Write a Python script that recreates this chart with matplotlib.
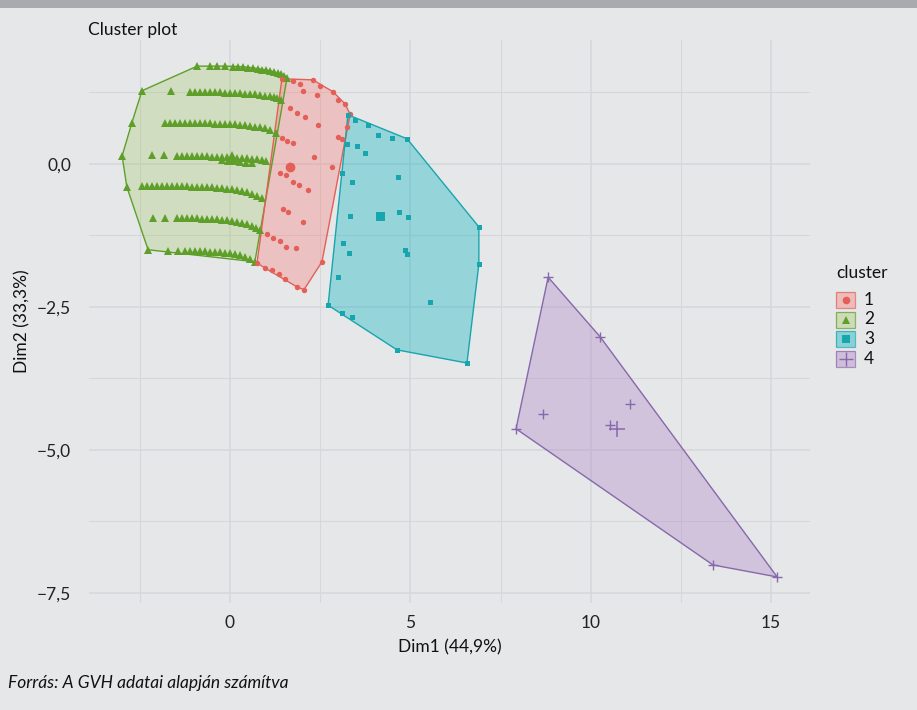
import matplotlib
matplotlib.use("Agg")
import matplotlib.pyplot as plt
from matplotlib.patches import Rectangle, Polygon

# ---------------- data (Dim1, Dim2) ----------------
# cluster 2 (green) - horizontal bands of points
g1_x = [-0.91, -0.55, -0.36, -0.14, 0.08, 0.22, 0.36, 0.50, 0.64, 0.78, 0.89, 1.00, 1.11, 1.22, 1.33, 1.41, 1.50, 1.58]
g1_y = [1.71, 1.71, 1.71, 1.71, 1.70, 1.70, 1.70, 1.68, 1.68, 1.66, 1.64, 1.64, 1.63, 1.61, 1.59, 1.57, 1.54, 1.50]
g2_x = [-2.44, -1.64, -1.11, -0.97, -0.83, -0.69, -0.55, -0.42, -0.28, -0.14, 0.00, 0.14, 0.28, 0.42, 0.55, 0.69, 0.83, 0.97, 1.11, 1.22, 1.30, 1.41]
g2_y = [1.28, 1.28, 1.26, 1.26, 1.26, 1.26, 1.26, 1.26, 1.26, 1.24, 1.24, 1.24, 1.24, 1.22, 1.22, 1.22, 1.21, 1.19, 1.19, 1.17, 1.15, 1.12]
g3_x = [-2.72, -1.80, -1.66, -1.52, -1.39, -1.25, -1.11, -0.97, -0.83, -0.69, -0.55, -0.42, -0.28, -0.14, 0.00, 0.14, 0.28, 0.42, 0.55, 0.69, 0.83, 0.97, 1.11, 1.28]
g3_y = [0.72, 0.72, 0.72, 0.72, 0.72, 0.72, 0.72, 0.72, 0.72, 0.72, 0.72, 0.70, 0.70, 0.70, 0.70, 0.70, 0.68, 0.68, 0.66, 0.65, 0.65, 0.63, 0.59, 0.54]
g4_x = [-2.99, -2.16, -1.83, -1.47, -1.33, -1.19, -1.05, -0.91, -0.78, -0.64, -0.50, -0.36, -0.22, -0.08, 0.06, 0.19, 0.33, 0.47, 0.61, 0.75, 0.89, 1.00,
        -0.22, -0.06, 0.11, 0.28, 0.44, 0.61]
g4_y = [0.14, 0.16, 0.16, 0.14, 0.14, 0.14, 0.14, 0.14, 0.14, 0.14, 0.12, 0.12, 0.12, 0.12, 0.12, 0.10, 0.10, 0.10, 0.09, 0.09, 0.07, 0.05,
        0.07, 0.05, 0.05, 0.03, 0.02, 0.02]
g5_x = [-2.86, -2.44, -2.30, -2.16, -2.02, -1.89, -1.75, -1.61, -1.47, -1.33, -1.19, -1.05, -0.91, -0.78, -0.64, -0.50, -0.36, -0.22, -0.08, 0.06, 0.19, 0.33, 0.47, 0.61, 0.75, 0.89]
g5_y = [-0.40, -0.38, -0.38, -0.38, -0.38, -0.38, -0.38, -0.38, -0.38, -0.38, -0.38, -0.40, -0.40, -0.40, -0.40, -0.40, -0.42, -0.42, -0.44, -0.44, -0.45, -0.47, -0.49, -0.52, -0.56, -0.59]
g6_x = [-2.13, -1.80, -1.47, -1.33, -1.19, -1.05, -0.91, -0.78, -0.64, -0.50, -0.36, -0.22, -0.08, 0.06, 0.19, 0.33, 0.47, 0.61, 0.72, 0.83]
g6_y = [-0.94, -0.94, -0.94, -0.94, -0.94, -0.94, -0.94, -0.96, -0.96, -0.96, -0.96, -0.98, -0.98, -1.00, -1.01, -1.03, -1.05, -1.08, -1.12, -1.15]
g7_x = [-2.27, -1.72, -1.44, -1.25, -1.11, -0.97, -0.83, -0.69, -0.55, -0.42, -0.28, -0.14, 0.00, 0.14, 0.28, 0.42, 0.55, 0.69]
g7_y = [-1.50, -1.52, -1.52, -1.52, -1.52, -1.52, -1.52, -1.52, -1.54, -1.54, -1.54, -1.56, -1.56, -1.57, -1.59, -1.63, -1.66, -1.71]

# cluster 1 (red)
r_x = [1.44, 1.75, 1.94, 2.30, 2.50, 2.86, 2.02, 2.41, 2.99, 3.19, 3.33, 1.66, 1.86, 2.08, 2.44, 2.99, 3.11, 1.44, 1.58, 1.75,
       2.33, 2.83, 1.39, 1.55, 1.75, 1.91, 2.16, 1.47, 1.61, 2.02, 1.03, 1.19, 1.39, 1.55, 1.83, 2.55, 0.75, 0.97, 1.16, 1.36,
       1.52, 1.86, 2.05, 3.24]
r_y = [1.49, 1.45, 1.40, 1.47, 1.36, 1.26, 1.28, 1.21, 1.12, 1.05, 0.87, 0.98, 0.89, 0.82, 0.68, 0.47, 0.44, 0.45, 0.40, 0.37,
       0.12, -0.05, -0.16, -0.19, -0.31, -0.37, -0.45, -0.79, -0.84, -1.01, -1.22, -1.29, -1.35, -1.45, -1.47, -1.71, -1.73, -1.82, -1.85, -1.92,
       -2.01, -2.15, -2.20, 0.65]

# cluster 3 (cyan)
c_x = [3.27, 3.47, 3.83, 4.10, 4.49, 4.91, 3.24, 3.52, 3.74, 4.66, 3.11, 3.38, 3.33, 4.69, 4.93, 6.90, 3.13, 3.30, 4.85, 4.91,
       6.90, 2.99, 5.54, 2.72, 3.11, 3.38, 4.63, 6.57]
c_y = [0.86, 0.77, 0.68, 0.51, 0.45, 0.44, 0.35, 0.31, 0.19, -0.23, -0.16, -0.31, -0.91, -0.84, -0.93, -1.10, -1.38, -1.56, -1.50, -1.57,
       -1.75, -1.98, -2.41, -2.47, -2.60, -2.67, -3.25, -3.48]

# cluster 4 (purple)
p_x = [8.82, 10.26, 11.09, 8.68, 7.93, 10.54, 13.39, 15.17]
p_y = [-1.98, -3.02, -4.20, -4.37, -4.63, -4.56, -7.01, -7.22]

# cluster centres (1, 2, 3, 4)
centre_x = [1.66, 0.06, 4.16, 10.73]
centre_y = [-0.05, 0.10, -0.91, -4.63]

cluster_labels = ["1", "2", "3", "4"]
x_ticks = [0, 5, 10, 15]
x_ticklabels = ["0", "5", "10", "15"]
y_ticks = [0.0, -2.5, -5.0, -7.5]
y_ticklabels = ["0,0", "\u22122,5", "\u22125,0", "\u22127,5"]

# ---------------- helpers ----------------
def convex_hull(xs, ys):
    pts = sorted(set(zip(xs, ys)))
    def cross(o, a, b):
        return (a[0] - o[0]) * (b[1] - o[1]) - (a[1] - o[1]) * (b[0] - o[0])
    lower = []
    for p in pts:
        while len(lower) >= 2 and cross(lower[-2], lower[-1], p) <= 0:
            lower.pop()
        lower.append(p)
    upper = []
    for p in reversed(pts):
        while len(upper) >= 2 and cross(upper[-2], upper[-1], p) <= 0:
            upper.pop()
        upper.append(p)
    return lower[:-1] + upper[:-1]

FONT = ["Lato", "DejaVu Sans"]
plt.rcParams["font.family"] = FONT

BG = "#e6e7e9"
GRID = "#d5d7da"
cols_pt = ["#e35f58", "#5e9f2a", "#17a6ae", "#8768ab"]
cols_fill = ["#f8766d", "#9cc455", "#12b5bf", "#b08ac8"]
fill_alpha = [0.32, 0.27, 0.38, 0.38]
markers = ["o", "^", "s", "+"]
msize = [3.9, 5.6, 3.6, 7]

green_x = g1_x + g2_x + g3_x + g4_x + g5_x + g6_x + g7_x
green_y = g1_y + g2_y + g3_y + g4_y + g5_y + g6_y + g7_y
clusters = [(r_x, r_y), (green_x, green_y), (c_x, c_y), (p_x, p_y)]

fig = plt.figure(figsize=(9.17, 7.10), dpi=100, facecolor=BG)
fig.patches.append(Rectangle((0, 1 - 8 / 710), 1, 8 / 710, transform=fig.transFigure,
                             facecolor="#a8aaad", edgecolor="none"))

ax = fig.add_axes([89.3 / 917, 1 - 602.7 / 710, (810 - 89.3) / 917, (602.7 - 40.4) / 710])
ax.set_facecolor(BG)
for s in ax.spines.values():
    s.set_visible(False)
ax.set_xlim(-3.90, 16.08)
ax.set_ylim(-7.67, 2.16)
ax.set_xticks(x_ticks)
ax.set_xticklabels(x_ticklabels)
ax.set_yticks(y_ticks)
ax.set_yticklabels(y_ticklabels)
ax.set_xticks([-2.5, 2.5, 7.5, 12.5], minor=True)
ax.set_yticks([1.25, -1.25, -3.75, -6.25], minor=True)
ax.grid(True, which="major", color=GRID, lw=1.1)
ax.grid(True, which="minor", color=GRID, lw=0.8)
ax.set_axisbelow(True)
ax.tick_params(which="both", length=0)
ax.tick_params(axis="x", labelsize=12.5, pad=9, labelcolor="#222222")
ax.tick_params(axis="y", labelsize=12.5, pad=13, labelcolor="#222222")

# hulls then points
order = [1, 0, 2, 3]
for i in order:
    xs, ys = clusters[i]
    h = convex_hull(xs, ys)
    ax.add_patch(Polygon(h, closed=True, facecolor=cols_fill[i], alpha=fill_alpha[i], edgecolor="none", zorder=2))
    ax.add_patch(Polygon(h, closed=True, facecolor="none", edgecolor=cols_pt[i], lw=1.0, zorder=3))
for i in order:
    xs, ys = clusters[i]
    if markers[i] == "+":
        ax.plot(xs, ys, ls="none", marker="+", ms=msize[i], mew=1.0, color=cols_pt[i], zorder=4)
        ax.plot(centre_x[i], centre_y[i], ls="none", marker="+", ms=11, mew=1.1, color=cols_pt[i], zorder=4)
    else:
        ax.plot(xs, ys, ls="none", marker=markers[i], ms=msize[i], mew=0, color=cols_pt[i], zorder=4)
        ax.plot(centre_x[i], centre_y[i], ls="none", marker=markers[i], ms=msize[i] * 1.8, mew=0,
                color=cols_pt[i], zorder=4)

ax.set_xlabel("Dim1 (44,9%)", fontsize=12.5, labelpad=6, color="#111111")
ax.set_ylabel("Dim2 (33,3%)", fontsize=12.5, color="#111111")
ax.yaxis.set_label_coords((30 - 89.3) / 720.7, 0.5)

fig.text(88 / 917, 1 - 30 / 710, "Cluster plot", fontsize=12.5, ha="left", va="center", color="#111111")
fig.text(8 / 917, 1 - 683 / 710, "Forr\u00e1s: A GVH adatai alapj\u00e1n sz\u00e1m\u00edtva", fontsize=12.5,
         style="italic", ha="left", va="center", color="#111111")

# legend drawn in pixel space
lg = fig.add_axes([0, 0, 1, 1], facecolor="none")
lg.set_xlim(0, 917)
lg.set_ylim(710, 0)
lg.axis("off")
lg.text(836, 273, "cluster", fontsize=12.5, ha="left", va="center", color="#111111")
for k in range(4):
    yc = 300 + k * 19.5
    lg.add_patch(Rectangle((836, yc - 8), 19, 16, facecolor=cols_fill[k], alpha=fill_alpha[k] + 0.05,
                           edgecolor="none"))
    lg.add_patch(Rectangle((836, yc - 8), 19, 16, facecolor="none", edgecolor=cols_pt[k], lw=0.9, alpha=0.7))
    if markers[k] == "+":
        lg.plot(845.5, yc, marker="+", ms=10, mew=1.0, color=cols_pt[k])
    else:
        lg.plot(845.5, yc, marker=markers[k], ms=5.5, mew=0, color=cols_pt[k])
    lg.text(864, yc, cluster_labels[k], fontsize=12.5, ha="left", va="center", color="#111111")

fig.savefig("out.png", dpi=100, facecolor=BG)
